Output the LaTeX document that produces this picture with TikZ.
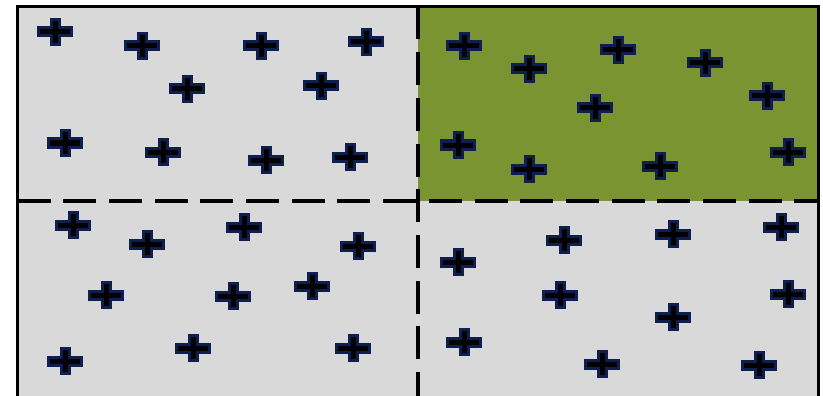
\documentclass[tikz,border=0pt]{standalone}
\usepackage{xcolor}
\usepackage{tikz}
\usetikzlibrary{calc}

\definecolor{cellgray}{RGB}{217,217,217}
\definecolor{cellgreen}{RGB}{122,148,50}
\definecolor{navyline}{RGB}{14,30,78}

\tikzset{
    plusmark/.pic={
        \filldraw[fill=black, draw=navyline, line width=3pt, line join=miter]
            (-16.8,-4) -- (-4,-4) -- (-4,-12.5) -- (4,-12.5) -- (4,-4) -- (16.8,-4)
            -- (16.8,4) -- (4,4) -- (4,12.5) -- (-4,12.5) -- (-4,4) -- (-16.8,4) -- cycle;
    },
    gridline/.style={line width=4pt, dash pattern=on 33pt off 12.7pt},
}

\begin{document}
\begin{tikzpicture}[x=1pt, y=-1pt]
    \useasboundingbox (0,0) rectangle (823,396);

    % 背景
    \fill[cellgray] (17.5,6.5) rectangle (818,397.5);
    \fill[cellgreen] (418,6.5) rectangle (818,201);

    % 分割线
    \draw[gridline] (17.5,201) -- (818,201);
    \draw[gridline] (418,6.5) -- (418,397.5);

    % 外框
    \draw[line width=3pt] (17.5,6.5) rectangle (818,397.5);

    % 左上
    \foreach \x/\y in {55/32, 142/46, 261/46, 366/42, 187/89, 321/86, 65/143, 163/152, 266/160, 350/157} {
        \pic at (\x,\y) {plusmark};
    }

    % 右上
    \foreach \x/\y in {464/46, 529/69, 618/50, 705/63, 595/108, 767/96, 458/145, 529/169, 660/166, 788/152} {
        \pic at (\x,\y) {plusmark};
    }

    % 左下
    \foreach \x/\y in {73/225, 147/244, 244/227, 358/246, 106/295, 233/296, 312/286, 65/361, 193/348, 353/348} {
        \pic at (\x,\y) {plusmark};
    }

    % 右下
    \foreach \x/\y in {458/262, 564/240, 673/234, 781/227, 560/295, 788/294, 673/317, 464/342, 602/364, 759/365} {
        \pic at (\x,\y) {plusmark};
    }
\end{tikzpicture}
\end{document}
